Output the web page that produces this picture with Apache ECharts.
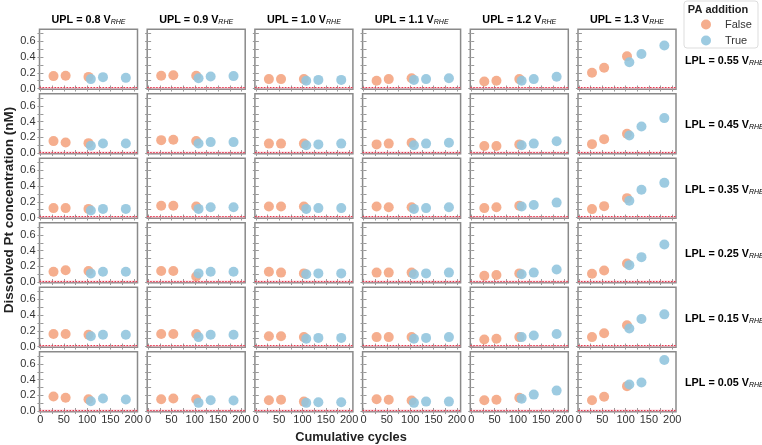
<!DOCTYPE html>
<html><head><meta charset="utf-8">
<script src="https://cdn.jsdelivr.net/npm/echarts@6/dist/echarts.min.js"></script>
<style>html,body{margin:0;padding:0;background:#fff}#c{width:762px;height:445px}</style>
</head><body><div id="c"></div>
<script>
// ---- data ----
const uplLabels = ['0.8', '0.9', '1.0', '1.1', '1.2', '1.3'];
const lplLabels = ['0.55', '0.45', '0.35', '0.25', '0.15', '0.05'];
const falseCycles = [28, 54, 103];
const trueCycles = [108, 134, 183];
const yTickLabels = [0, 0.2, 0.4, 0.6];
const xTickLabels = [0, 50, 100, 150, 200];
// each row: one [v1,v2,v3] per UPL column
const falseLPL055 = [[0.158,0.162,0.148],[0.162,0.170,0.162],[0.12,0.12,0.12],[0.10,0.12,0.13],[0.09,0.10,0.12],[0.20,0.264,0.41]];
const trueLPL055  = [[0.12,0.145,0.136],[0.132,0.153,0.158],[0.10,0.11,0.11],[0.11,0.12,0.13],[0.10,0.12,0.15],[0.336,0.44,0.548]];
const falseLPL045 = [[0.152,0.134,0.126],[0.164,0.168,0.152],[0.12,0.12,0.12],[0.11,0.12,0.13],[0.09,0.09,0.11],[0.113,0.177,0.245]];
const trueLPL045  = [[0.092,0.121,0.121],[0.121,0.139,0.139],[0.10,0.11,0.12],[0.10,0.12,0.13],[0.10,0.12,0.15],[0.223,0.338,0.445]];
const falseLPL035 = [[0.12,0.12,0.11],[0.15,0.15,0.14],[0.14,0.14,0.14],[0.14,0.13,0.13],[0.12,0.13,0.15],[0.107,0.145,0.247]];
const trueLPL035  = [[0.09,0.11,0.11],[0.11,0.13,0.13],[0.11,0.12,0.12],[0.11,0.12,0.13],[0.14,0.16,0.19],[0.213,0.353,0.442]];
const falseLPL025 = [[0.13,0.15,0.14],[0.14,0.14,0.07],[0.13,0.12,0.11],[0.12,0.12,0.12],[0.08,0.09,0.11],[0.105,0.147,0.236]];
const trueLPL025  = [[0.11,0.13,0.13],[0.11,0.13,0.13],[0.10,0.11,0.11],[0.10,0.11,0.12],[0.10,0.12,0.16],[0.215,0.317,0.478]];
const falseLPL015 = [[0.16,0.16,0.15],[0.16,0.16,0.16],[0.13,0.13,0.12],[0.12,0.12,0.12],[0.09,0.10,0.12],[0.12,0.17,0.27]];
const trueLPL015  = [[0.13,0.15,0.15],[0.12,0.15,0.15],[0.10,0.11,0.11],[0.10,0.11,0.12],[0.12,0.14,0.16],[0.23,0.35,0.41]];
const falseLPL005 = [[0.186,0.17,0.151],[0.151,0.16,0.151],[0.138,0.143,0.12],[0.151,0.143,0.134],[0.138,0.143,0.17],[0.138,0.183,0.317]];
const trueLPL005  = [[0.125,0.16,0.147],[0.104,0.138,0.134],[0.104,0.112,0.112],[0.104,0.12,0.12],[0.156,0.209,0.26],[0.338,0.364,0.65]];
const detectionLimit = 0.005;

const falseRows = [falseLPL055, falseLPL045, falseLPL035, falseLPL025, falseLPL015, falseLPL005];
const trueRows = [trueLPL055, trueLPL045, trueLPL035, trueLPL025, trueLPL015, trueLPL005];

// ---- layout ----
const gx0 = 39.5, gxStep = 107.7, gw = 98, gy0 = 29.3, gyStep = 64.5, gh = 60;
const colFalse = '#F4A582', colTrue = '#92C5DE';
const yMin = -0.01, yMax = 0.755, xMin = -2, xMax = 208;
const yMinor = [0, 0.1, 0.2, 0.3, 0.4, 0.5, 0.6, 0.7];
const xMinor = [0, 25, 50, 75, 100, 125, 150, 175, 200];
const tickStyle = {show: true, inside: true, length: 3, lineStyle: {color: '#999', width: 1}};

const grid = [], xAxis = [], yAxis = [], series = [], graphic = [];
for (let r = 0; r < 6; r++) {
  for (let c = 0; c < 6; c++) {
    const i = r * 6 + c;
    grid.push({left: gx0 + gxStep * c, top: gy0 + gyStep * r, width: gw, height: gh,
      show: true, borderColor: '#8a8a8a', borderWidth: 1.5, backgroundColor: '#fff'});
    xAxis.push({type: 'value', gridIndex: i, min: xMin, max: xMax, position: 'bottom',
      axisLine: {show: false}, splitLine: {show: false},
      axisTick: Object.assign({customValues: xMinor}, tickStyle),
      axisLabel: {show: r === 5, customValues: xTickLabels, margin: 3, fontSize: 11, color: '#333', fontFamily: 'Liberation Sans'}});
    xAxis.push({type: 'value', gridIndex: i, min: xMin, max: xMax, position: 'top',
      axisLine: {show: false}, splitLine: {show: false},
      axisTick: Object.assign({customValues: xMinor}, tickStyle), axisLabel: {show: false}});
    yAxis.push({type: 'value', gridIndex: i, min: yMin, max: yMax, position: 'left',
      axisLine: {show: false}, splitLine: {show: false},
      axisTick: Object.assign({customValues: yMinor}, tickStyle),
      axisLabel: {show: c === 0, customValues: yTickLabels, margin: 4, fontSize: 11, color: '#333', fontFamily: 'Liberation Sans',
        formatter: v => v.toFixed(1)}});
    yAxis.push({type: 'value', gridIndex: i, min: yMin, max: yMax, position: 'right',
      axisLine: {show: false}, splitLine: {show: false},
      axisTick: Object.assign({customValues: yMinor}, tickStyle), axisLabel: {show: false}});
    const fv = falseRows[r][c], tv = trueRows[r][c];
    series.push({type: 'scatter', name: 'False', xAxisIndex: 2 * i, yAxisIndex: 2 * i,
      symbolSize: 10, itemStyle: {color: colFalse, opacity: 0.9},
      data: falseCycles.map((x, k) => [x, fv[k]]),
      markArea: {silent: true, itemStyle: {color: 'rgba(245,140,160,0.35)'},
        data: [[{yAxis: yMin}, {yAxis: 0.018}]]},
      markLine: {silent: true, symbol: 'none', label: {show: false},
        lineStyle: {color: '#e83a50', type: [1.5, 1.5], width: 1.2},
        data: [{yAxis: detectionLimit}]}});
    series.push({type: 'scatter', name: 'True', xAxisIndex: 2 * i, yAxisIndex: 2 * i,
      symbolSize: 10, itemStyle: {color: colTrue, opacity: 0.9},
      data: trueCycles.map((x, k) => [x, tv[k]])});
  }
}

const rich = {
  b: {fontSize: 10.8, fontWeight: 'bold', fontFamily: 'Liberation Sans', color: '#222', verticalAlign: 'bottom', lineHeight: 14},
  s: {fontSize: 7, fontStyle: 'italic', fontFamily: 'Liberation Sans', color: '#222', verticalAlign: 'bottom', lineHeight: 4}
};
for (let c = 0; c < 6; c++) {
  graphic.push({type: 'text', x: gx0 + gxStep * c + gw / 2, y: 19,
    style: {text: '{b|UPL = ' + uplLabels[c] + ' V}{s|RHE}', rich: rich, align: 'center', verticalAlign: 'middle'}});
}
for (let r = 0; r < 6; r++) {
  graphic.push({type: 'text', x: 685, y: gy0 + gyStep * r + gh / 2,
    style: {text: '{b|LPL = ' + lplLabels[r] + ' V}{s|RHE}', rich: rich, align: 'left', verticalAlign: 'middle'}});
}
graphic.push({type: 'text', x: 9, y: 210, rotation: Math.PI / 2,
  style: {text: 'Dissolved Pt concentration (nM)', font: 'bold 13.5px "Liberation Sans"', fill: '#222', align: 'center', verticalAlign: 'middle'}});
graphic.push({type: 'text', x: 351, y: 437,
  style: {text: 'Cumulative cycles', font: 'bold 12.8px "Liberation Sans"', fill: '#222', align: 'center', verticalAlign: 'middle'}});
graphic.push({type: 'rect', shape: {x: 684, y: 1, width: 74, height: 47, r: 3},
  style: {fill: '#fff', stroke: '#ddd', lineWidth: 1}, z: 0});
graphic.push({type: 'text', x: 718, y: 10, z: 10,
  style: {text: 'PA addition', font: 'bold 11px "Liberation Sans"', fill: '#222', align: 'center', verticalAlign: 'middle'}});

const option = {
  animation: false,
  backgroundColor: '#fff',
  grid, xAxis, yAxis, series, graphic,
  legend: {data: ['False', 'True'], orient: 'vertical', left: 696, top: 14, itemWidth: 10, itemHeight: 10,
    itemGap: 5, icon: 'circle', textStyle: {fontSize: 11, color: '#333', fontFamily: 'Liberation Sans', padding: [0, 0, 0, 9]}, z: 20}
};
const chart = echarts.init(document.getElementById('c'), null, {renderer: 'canvas'});
chart.setOption(option);
</script></body></html>
